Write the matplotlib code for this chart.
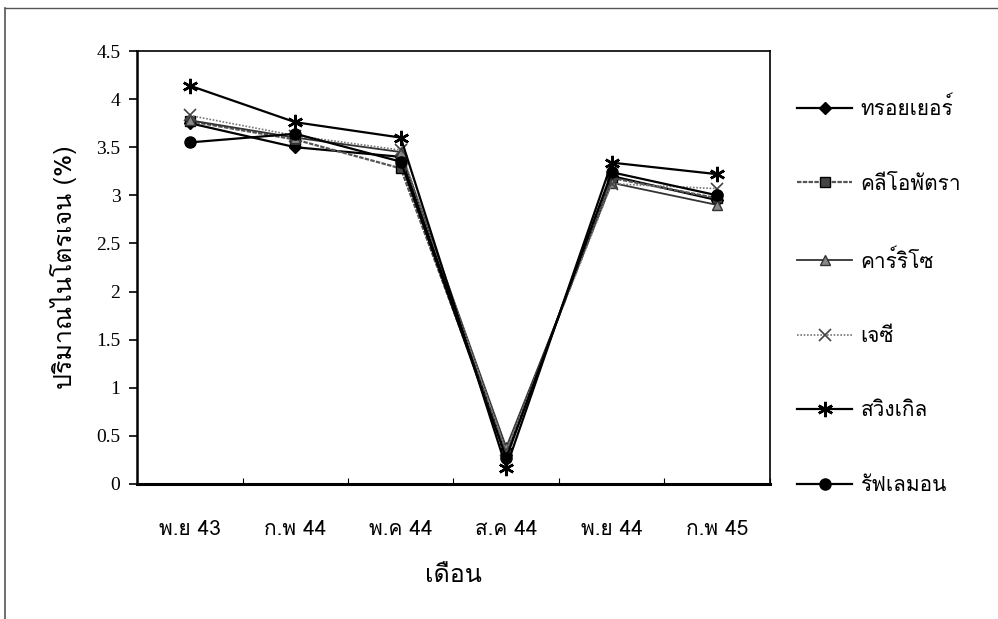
import matplotlib
matplotlib.use("Agg")
import matplotlib.pyplot as plt
from matplotlib import font_manager
from matplotlib.ft2font import FT2Font
from matplotlib.lines import Line2D

months = ["พ.ย 43", "ก.พ 44", "พ.ค 44", "ส.ค 44", "พ.ย 44", "ก.พ 45"]

troyer = [3.75, 3.50, 3.40, 0.30, 3.20, 2.95]
cleopatra = [3.77, 3.58, 3.28, 0.32, 3.18, 2.97]
carrizo = [3.78, 3.60, 3.45, 0.38, 3.13, 2.90]
jc = [3.83, 3.62, 3.47, 0.35, 3.12, 3.07]
swingle = [4.14, 3.76, 3.60, 0.17, 3.34, 3.22]
rough_lemon = [3.55, 3.64, 3.35, 0.27, 3.24, 3.00]

names = ["ทรอยเยอร์", "คลีโอพัตรา", "คาร์ริโซ", "เจซี", "สวิงเกิล", "รัฟเลมอน"]


def find_thai_font():
    # first installed family that actually has Thai glyphs
    for f in font_manager.fontManager.ttflist:
        try:
            if 0x0E01 in FT2Font(f.fname).get_charmap():
                return f.name
        except Exception:
            continue
    return None


thai = find_thai_font()
families = [thai, "DejaVu Sans"] if thai else ["DejaVu Sans"]
plt.rcParams["font.family"] = families

fig = plt.figure(figsize=(9.98, 6.19), dpi=100)
ax = fig.add_axes([0.1373, 0.2181, 0.6342, 0.6995])

x = list(range(len(months)))
styles = [
    (troyer, dict(color="black", lw=1.6, marker="D", ms=6, mfc="black", mec="black")),
    (cleopatra, dict(color="#555555", lw=1.6, ls=(0, (2, 0.6)), marker="s", ms=7, mfc="#444444", mec="black")),
    (carrizo, dict(color="#333333", lw=1.3, marker="^", ms=7, mfc="#888888", mec="#333333")),
    (jc, dict(color="#777777", lw=1.2, ls=(0, (1, 1)), marker="x", ms=8, mew=1.2, mec="#444444")),
    (swingle, dict(color="black", lw=1.6, marker=(6, 2, 0), ms=11, mew=1.8, mec="black")),
    (rough_lemon, dict(color="black", lw=1.6, marker="o", ms=8, mfc="black", mec="black")),
]
for (vals, st), name in zip(styles, names):
    ax.plot(x, vals, label=name, **st)

ax.set_xlim(-0.5, 5.5)
ax.set_ylim(0, 4.5)
ax.set_yticks([0, 0.5, 1, 1.5, 2, 2.5, 3, 3.5, 4, 4.5])
ax.set_yticklabels(["0", "0.5", "1", "1.5", "2", "2.5", "3", "3.5", "4", "4.5"],
                   family=["Liberation Serif"], fontsize=14)
ax.set_xticks([i - 0.5 for i in range(7)])
ax.set_xticklabels([])
ax.set_xticks(x, minor=True)
ax.set_xticklabels(months, minor=True, fontsize=15)
ax.tick_params(axis="x", which="minor", length=0, pad=26)
ax.tick_params(axis="x", which="major", direction="in", length=4, width=0.8)
ax.tick_params(axis="y", direction="out", length=6, width=1.2, pad=6)

for sp in ax.spines.values():
    sp.set_linewidth(1.2)
    sp.set_color("black")
ax.spines["bottom"].set_linewidth(2.2)
ax.spines["left"].set_linewidth(1.8)

ax.set_xlabel("เดือน", fontsize=18, labelpad=18)
ax.set_ylabel("ปริมาณไนโตรเจน (%)", fontsize=18, labelpad=14)

fig.legend(loc="upper left", bbox_to_anchor=(0.780, 0.874), frameon=False,
           fontsize=15, handlelength=2.65, labelspacing=2.66, handletextpad=0.4)

# outer frame lines along the top and left edge
fig.add_artist(Line2D([0.005, 1.0], [0.987, 0.987], color="#555555", lw=1.0))
fig.add_artist(Line2D([0.005, 0.005], [0.0, 0.987], color="#555555", lw=1.2))

fig.savefig("out.png", dpi=100)
